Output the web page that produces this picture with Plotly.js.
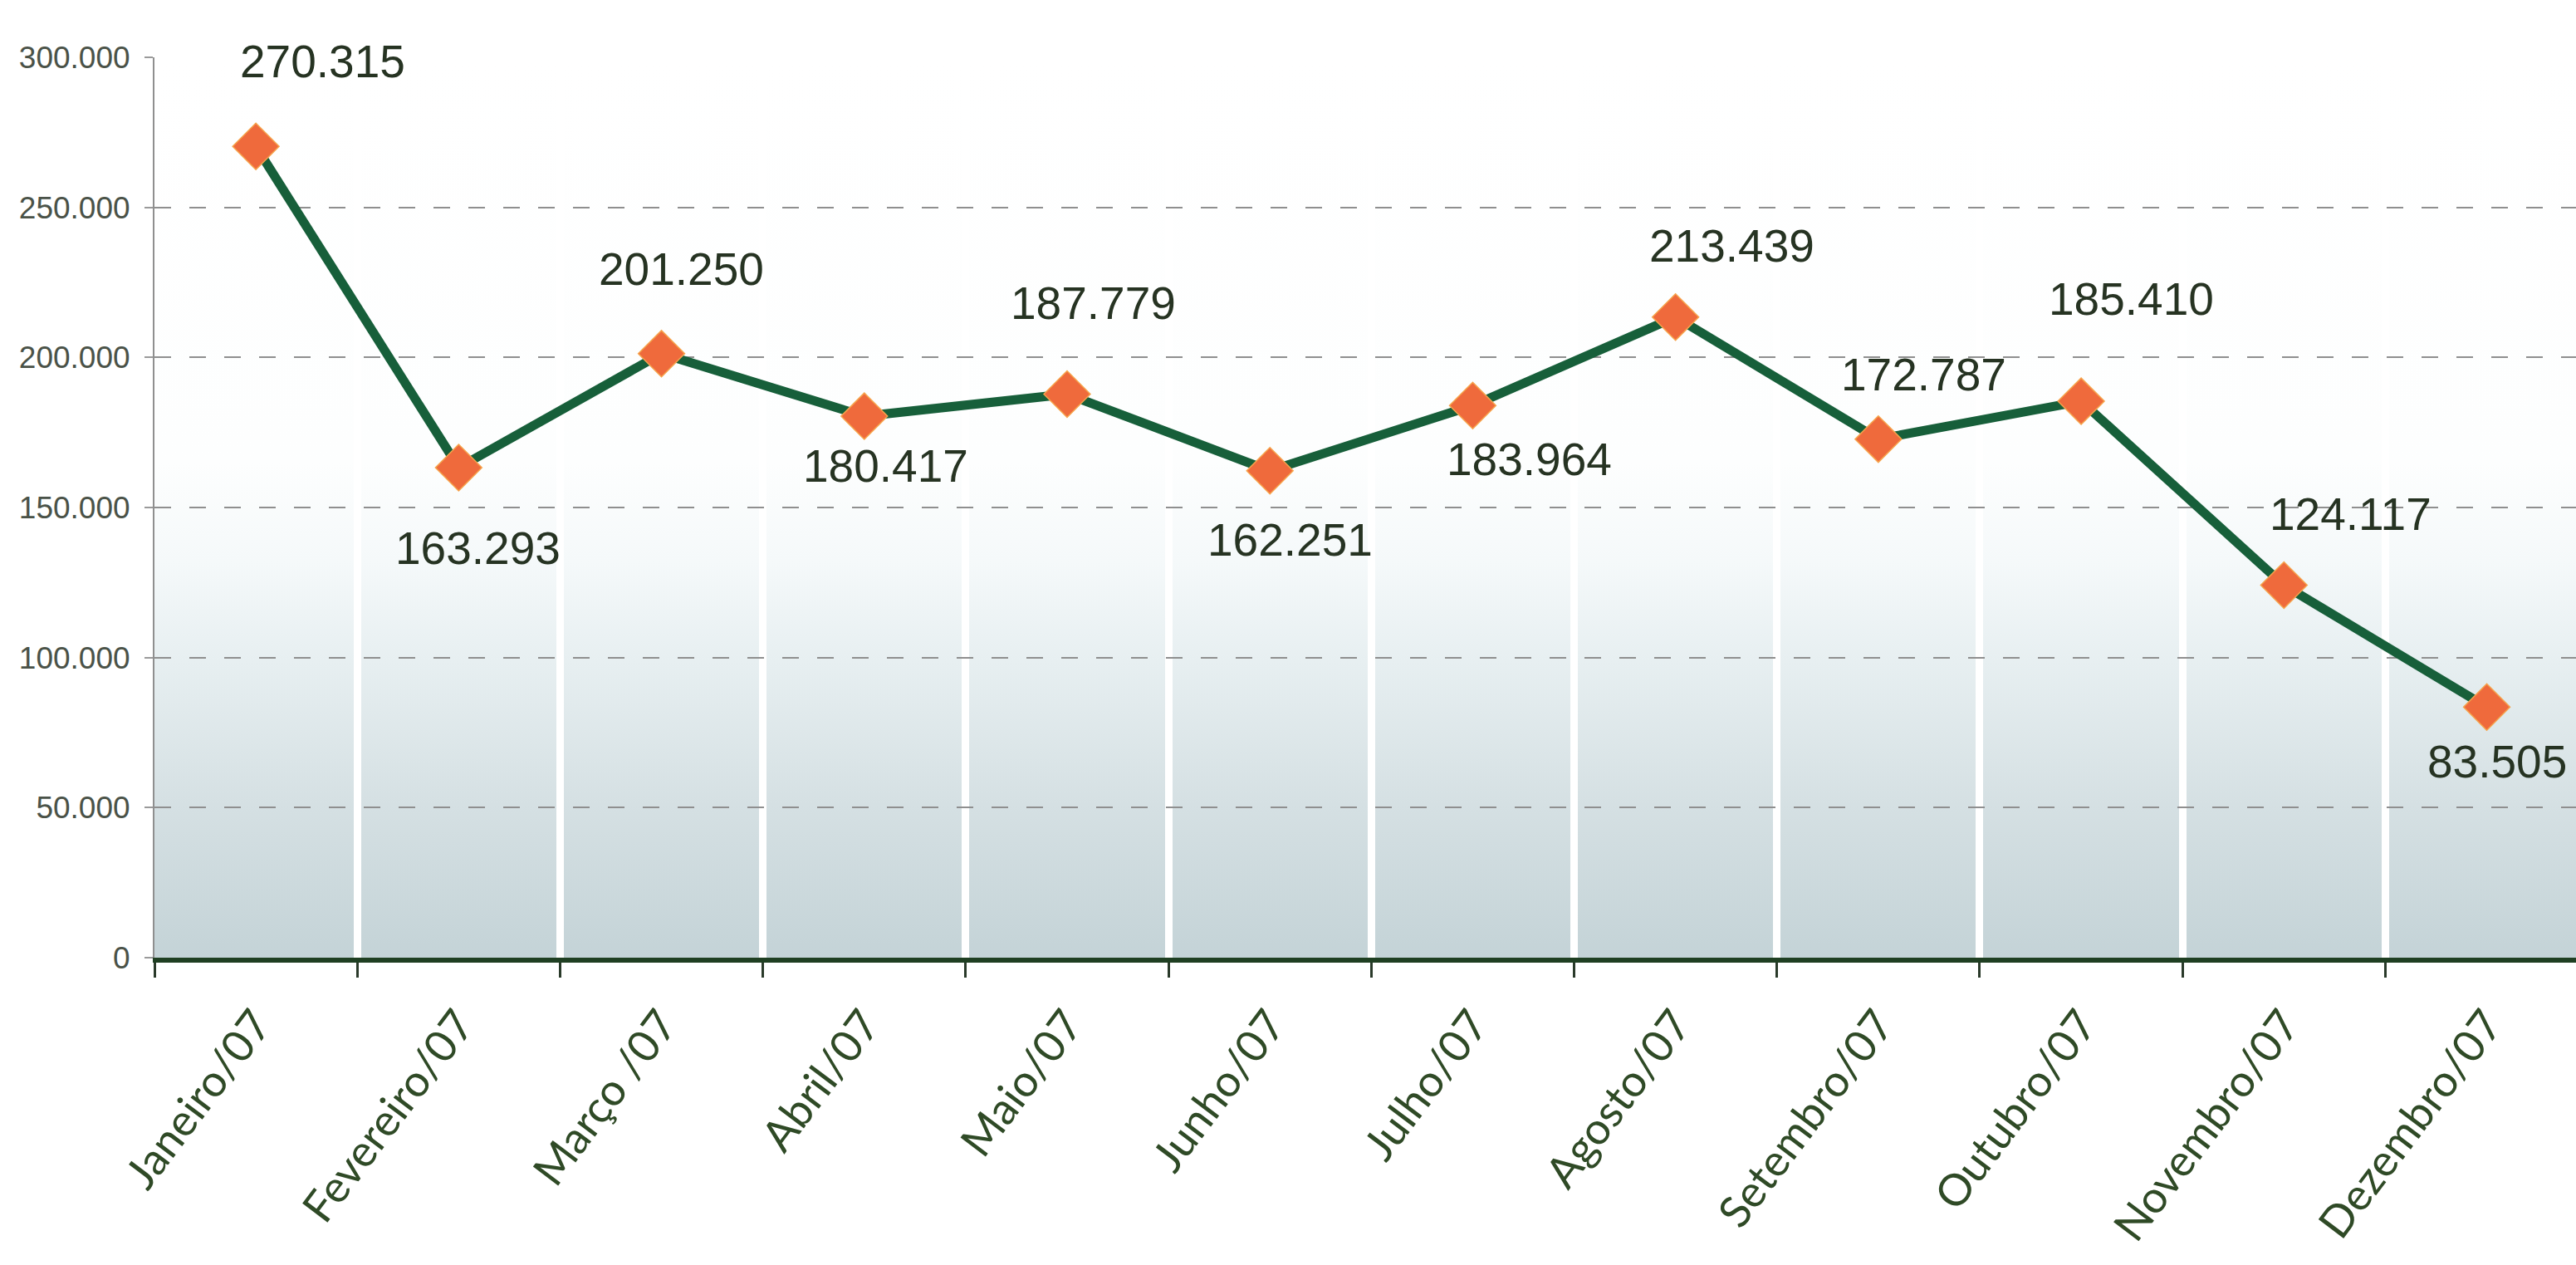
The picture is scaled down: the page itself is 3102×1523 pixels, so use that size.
<!DOCTYPE html>
<html>
<head>
<meta charset="utf-8">
<script src="https://cdn.plot.ly/plotly-3.0.1.min.js"></script>
<style>
  html, body { margin: 0; padding: 0; background: #ffffff; }
  #chart { width: 3102px; height: 1523px; }
</style>
</head>
<body>
<div id="chart"></div>
<script>
// ---- Data ----
const months = ["Janeiro/07", "Fevereiro/07", "Março /07", "Abril/07", "Maio/07", "Junho/07",
                "Julho/07", "Agosto/07", "Setembro/07", "Outubro/07", "Novembro/07", "Dezembro/07"];
const values = [270315, 163293, 201250, 180417, 187779, 162251,
                183964, 213439, 172787, 185410, 124117, 83505];
const yTickVals = [0, 50000, 100000, 150000, 200000, 250000, 300000];

// ---- Label placement (style only, pixels relative to each marker) ----
const labelDx = [80, 23, 24, 26, 32, 24, 68, 68, 55, 60, 80, 12];
const labelDy = [-102, 97, -102, 60, -109, 83, 65, -86, -78, -123, -86, 66];

function fmt(v) {
  return String(v).replace(/\B(?=(\d{3})+(?!\d))/g, ".");
}

const sans = "Liberation Sans, Arial, sans-serif";

const bgSvg = "<svg xmlns='http://www.w3.org/2000/svg' width='10' height='100' preserveAspectRatio='none'>" +
  "<defs><linearGradient id='g' x1='0' y1='0' x2='0' y2='1'>" +
  "<stop offset='0' stop-color='#ffffff'/>" +
  "<stop offset='0.45' stop-color='#fdfefe'/>" +
  "<stop offset='0.56' stop-color='#f5f9fa'/>" +
  "<stop offset='0.67' stop-color='#e7eff1'/>" +
  "<stop offset='0.83' stop-color='#d5e0e3'/>" +
  "<stop offset='1' stop-color='#c4d3d7'/>" +
  "</linearGradient></defs><rect width='10' height='100' fill='url(#g)'/></svg>";

const trace = {
  type: "scatter",
  mode: "lines+markers",
  x: months,
  y: values,
  line: { color: "#175f3a", width: 11 },
  marker: { symbol: "diamond", size: 43, color: "#ef6a3c",
            line: { color: "#f6a44c", width: 1.5 } },
  hoverinfo: "x+y",
  cliponaxis: false
};

const annotations = months.map((m, i) => ({
  x: m, y: values[i], xref: "x", yref: "y",
  text: fmt(values[i]),
  showarrow: false,
  xanchor: "center", yanchor: "middle",
  xshift: labelDx[i], yshift: -labelDy[i],
  font: { family: sans, size: 55, color: "#263322" }
}));

const layout = {
  width: 3102, height: 1523,
  margin: { l: 186, r: 0, t: 69, b: 370, pad: 0 },
  paper_bgcolor: "#ffffff",
  plot_bgcolor: "rgba(0,0,0,0)",
  separators: ",.",
  showlegend: false,
  images: [{
    source: "data:image/svg+xml;charset=utf-8," + encodeURIComponent(bgSvg),
    xref: "paper", yref: "paper", x: 0, y: 1, sizex: 1, sizey: 1,
    xanchor: "left", yanchor: "top", sizing: "stretch", layer: "below"
  }],
  xaxis: {
    type: "category",
    categoryorder: "array", categoryarray: months,
    range: [-0.5, 11.44],
    tickson: "boundaries",
    ticks: "outside", ticklen: 18, tickwidth: 3, tickcolor: "#2a3a2a",
    showline: true, linecolor: "#1f3f22", linewidth: 6,
    showgrid: true, gridcolor: "#ffffff", gridwidth: 9,
    tickangle: -53,
    ticklabelstandoff: 22,
    tickfont: { family: "Lato, Open Sans, sans-serif", size: 53, color: "#2f4a26" },
    fixedrange: true
  },
  yaxis: {
    range: [0, 300000],
    tickmode: "array", tickvals: yTickVals,
    tickformat: ",d",
    ticks: "outside", ticklen: 10, tickwidth: 2, tickcolor: "#9a9a9a",
    showline: true, linecolor: "#8f8f8f", linewidth: 2,
    showgrid: true, gridcolor: "#8f8f8f", gridwidth: 2, griddash: "20px,22px",
    zeroline: false,
    ticklabelstandoff: 10,
    tickfont: { family: sans, size: 37, color: "#4a5248" },
    fixedrange: true
  },
  annotations: annotations
};

Plotly.newPlot("chart", [trace], layout, { displayModeBar: false, staticPlot: true });
</script>
</body>
</html>
